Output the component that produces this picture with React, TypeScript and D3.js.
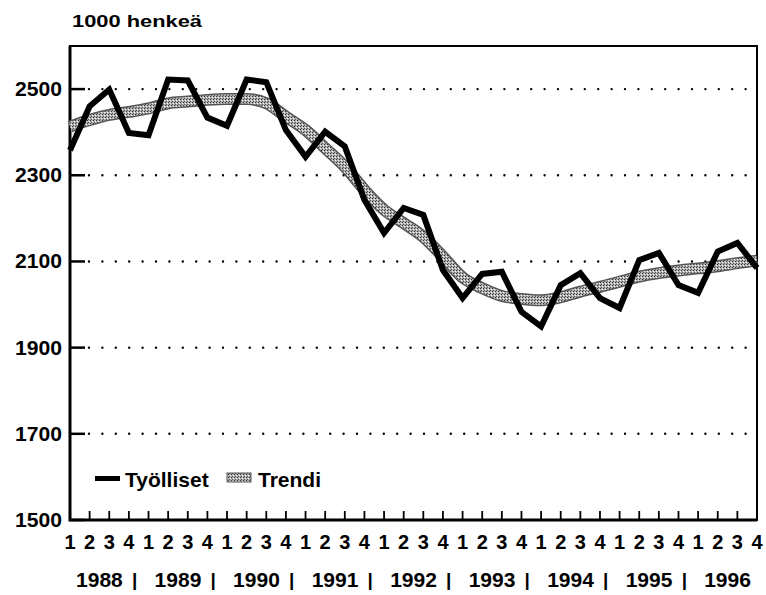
import * as React from "react";
import * as d3 from "d3";

const years = ["1988", "1989", "1990", "1991", "1992", "1993", "1994", "1995", "1996"];
const quarterLabels = ["1", "2", "3", "4"];
const categories = years.flatMap((yr) => quarterLabels.map((q) => `${yr}Q${q}`));

// Työlliset, 1000 persons, quarterly
const employed = [
  2358, 2460, 2499, 2398, 2393, 2522, 2520, 2434, 2415, 2522, 2516, 2405,
  2343, 2401, 2367, 2243, 2166, 2224, 2208, 2080, 2015, 2071, 2076, 1983,
  1949, 2045, 2073, 2015, 1992, 2103, 2120, 2045, 2027, 2123, 2143, 2085,
];
// Trendi
const trend = [
  2413, 2428, 2440, 2447, 2455, 2467, 2471, 2475, 2477, 2477, 2467, 2436,
  2405, 2363, 2320, 2266, 2220, 2189, 2157, 2111, 2063, 2038, 2020, 2013,
  2010, 2017, 2030, 2041, 2053, 2065, 2073, 2079, 2084, 2089, 2096, 2102,
];
const yTicks = [1500, 1700, 1900, 2100, 2300, 2500];

const W = 766;
const H = 595;
const FONT = "'Liberation Sans', Arial, sans-serif";

function drawChart(svgRef: React.RefObject<SVGSVGElement>) {
  const svg = d3.select(svgRef.current);
  svg.selectAll("*").remove();
  svg.attr("width", W).attr("height", H).style("background", "#fff");

  const left = 70;
  const right = 757;
  const top = 46;
  const bottom = 520;

  const x = d3.scalePoint<string>().domain(categories).range([left, right]);
  const y = d3.scaleLinear().domain([1500, 2600]).range([bottom, top]);

  // stipple pattern for the trend band
  const defs = svg.append("defs");
  const pat = defs
    .append("pattern")
    .attr("id", "stipple")
    .attr("width", 3)
    .attr("height", 3)
    .attr("patternUnits", "userSpaceOnUse");
  pat.append("rect").attr("width", 3).attr("height", 3).attr("fill", "#b0b0b0");
  pat.append("rect").attr("x", 0).attr("y", 0).attr("width", 1).attr("height", 1).attr("fill", "#333");
  pat.append("rect").attr("x", 2).attr("y", 1).attr("width", 1).attr("height", 1).attr("fill", "#fff");
  pat.append("rect").attr("x", 1).attr("y", 2).attr("width", 1).attr("height", 1).attr("fill", "#555");

  // unit label
  svg
    .append("text")
    .attr("x", 72)
    .attr("y", 27)
    .attr("font-family", FONT)
    .attr("font-size", 17)
    .attr("font-weight", "bold")
    .attr("textLength", 130)
    .attr("lengthAdjust", "spacingAndGlyphs")
    .text("1000 henkeä");

  // dotted grid
  svg
    .append("g")
    .selectAll("line")
    .data(yTicks.filter((t) => t > 1500))
    .join("line")
    .attr("x1", 89)
    .attr("x2", right)
    .attr("y1", (d) => y(d))
    .attr("y2", (d) => y(d))
    .attr("stroke", "#000")
    .attr("stroke-width", 2.4)
    .attr("stroke-linecap", "round")
    .attr("stroke-dasharray", "0 13.4");

  // y ticks + labels
  const yg = svg.append("g");
  yg.selectAll("line")
    .data(yTicks)
    .join("line")
    .attr("x1", left)
    .attr("x2", left + 15)
    .attr("y1", (d) => y(d))
    .attr("y2", (d) => y(d))
    .attr("stroke", "#000")
    .attr("stroke-width", 2.5);
  yg.selectAll("text")
    .data(yTicks)
    .join("text")
    .attr("x", 62)
    .attr("y", (d) => y(d) + 7)
    .attr("text-anchor", "end")
    .attr("font-family", FONT)
    .attr("font-size", 20)
    .attr("font-weight", "bold")
    .attr("textLength", 47)
    .attr("lengthAdjust", "spacingAndGlyphs")
    .text((d) => d);

  // frame
  svg
    .append("rect")
    .attr("x", left)
    .attr("y", top)
    .attr("width", right - left)
    .attr("height", bottom - top)
    .attr("fill", "none")
    .attr("stroke", "#000")
    .attr("stroke-width", 2);
  svg
    .append("path")
    .attr("d", `M${left},${top}V${bottom}H${right}`)
    .attr("fill", "none")
    .attr("stroke", "#000")
    .attr("stroke-width", 3);

  // quarter ticks and labels
  const xg = svg.append("g");
  xg.selectAll("line")
    .data(categories.slice(1, -1))
    .join("line")
    .attr("x1", (d) => x(d)!)
    .attr("x2", (d) => x(d)!)
    .attr("y1", bottom)
    .attr("y2", bottom - 9)
    .attr("stroke", "#000")
    .attr("stroke-width", 1.8);
  xg.selectAll("text")
    .data(categories)
    .join("text")
    .attr("x", (d) => x(d)!)
    .attr("y", 549)
    .attr("text-anchor", "middle")
    .attr("font-family", FONT)
    .attr("font-size", 20)
    .attr("font-weight", "bold")
    .text((d) => d.split("Q")[1]);

  // year labels
  const yearCenter = (yr: string) => (x(`${yr}Q1`)! + x(`${yr}Q4`)!) / 2;
  svg
    .append("g")
    .selectAll("text")
    .data(years)
    .join("text")
    .attr("x", (d) => yearCenter(d))
    .attr("y", 587)
    .attr("text-anchor", "middle")
    .attr("font-family", FONT)
    .attr("font-size", 21)
    .attr("font-weight", "bold")
    .text((d) => d);
  svg
    .append("g")
    .selectAll("text")
    .data(years.slice(0, -1))
    .join("text")
    .attr("x", (d, i) => (x(`${d}Q4`)! + x(`${years[i + 1]}Q1`)!) / 2 - 4)
    .attr("y", 586)
    .attr("text-anchor", "middle")
    .attr("font-family", FONT)
    .attr("font-size", 19)
    .attr("font-weight", "bold")
    .text("|");

  // trend band
  const line = d3
    .line<number>()
    .x((d, i) => x(categories[i])!)
    .y((d) => y(d))
    .curve(d3.curveMonotoneX);
  svg
    .append("path")
    .attr("d", line(trend))
    .attr("fill", "none")
    .attr("stroke", "#555")
    .attr("stroke-width", 12);
  svg
    .append("path")
    .attr("d", line(trend))
    .attr("fill", "none")
    .attr("stroke", "url(#stipple)")
    .attr("stroke-width", 9);

  // employed
  const line2 = d3
    .line<number>()
    .x((d, i) => x(categories[i])!)
    .y((d) => y(d));
  svg
    .append("path")
    .attr("d", line2(employed))
    .attr("fill", "none")
    .attr("stroke", "#000")
    .attr("stroke-width", 6)
    .attr("stroke-linejoin", "miter");

  // legend
  const lg = svg.append("g");
  lg.append("rect").attr("x", 95).attr("y", 476).attr("width", 25).attr("height", 5).attr("fill", "#000");
  lg.append("text")
    .attr("x", 125)
    .attr("y", 487)
    .attr("font-family", FONT)
    .attr("font-size", 21)
    .attr("font-weight", "bold")
    .text("Työlliset");
  lg.append("rect")
    .attr("x", 227)
    .attr("y", 473)
    .attr("width", 24)
    .attr("height", 9)
    .attr("fill", "url(#stipple)")
    .attr("stroke", "#555")
    .attr("stroke-width", 1);
  lg.append("text")
    .attr("x", 258)
    .attr("y", 487)
    .attr("font-family", FONT)
    .attr("font-size", 21)
    .attr("font-weight", "bold")
    .text("Trendi");
}

const App: React.FunctionComponent = () => {
  const svg = React.useRef<SVGSVGElement>(null);
  React.useEffect(() => {
    drawChart(svg);
  }, [svg]);

  return (
    <div id="chart" style={{ position: "absolute", left: 0, top: 0 }}>
      <svg ref={svg} style={{ display: "block" }} />
    </div>
  );
};

export default App;
